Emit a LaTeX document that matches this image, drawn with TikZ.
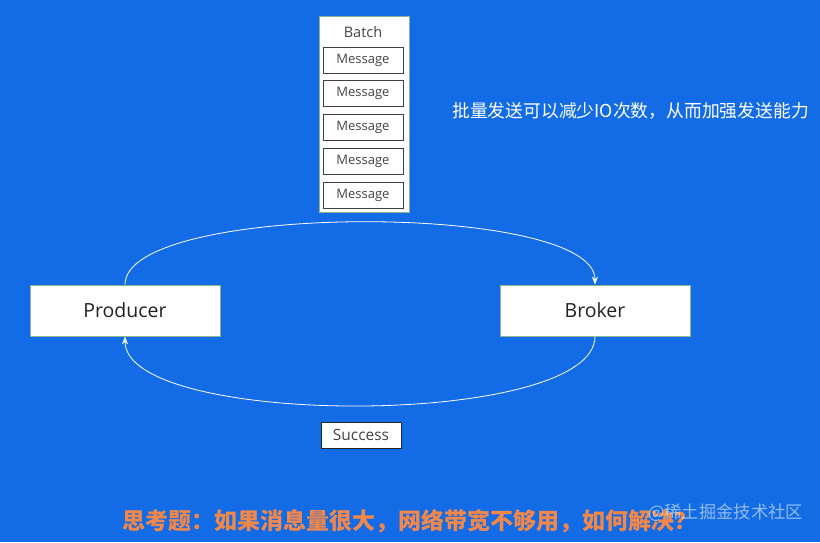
\documentclass[tikz,border=0pt]{standalone}
\usepackage{fontspec}
\setmainfont{Open Sans}
\newfontfamily\cjk{Noto Sans CJK SC}
\usetikzlibrary{arrows.meta}
\definecolor{bg}{HTML}{136CE6}
\definecolor{boxline}{HTML}{8DB58D}
\definecolor{orangetxt}{HTML}{F2874A}
\definecolor{dtext}{HTML}{222222}
\definecolor{mtext}{HTML}{444444}
\tikzset{
  mainbox/.style={draw=boxline, line width=0.8pt, fill=white, minimum width=190pt, minimum height=51pt, inner sep=0pt, text=dtext, font=\fontsize{19.5}{21}\selectfont},
  msgbox/.style={draw=black!75, line width=0.8pt, fill=white, minimum width=80pt, minimum height=26pt, inner sep=0pt, text=mtext, font=\fontsize{13}{14}\selectfont},
  flow/.style={draw=white, line width=0.8pt, -{Stealth[length=8pt,width=6pt]}}
}
\begin{document}
\begin{tikzpicture}[x=1pt,y=1pt]
\useasboundingbox (0,0) rectangle (820,542);
\fill[bg] (0,0) rectangle (820,542);
% batch
\node[draw=boxline, line width=0.8pt, fill=white, minimum width=90pt, minimum height=196pt, inner sep=0pt] (batch) at (364,428) {};
\node[text=mtext, font=\fontsize{14.5}{15}\selectfont] (batchlbl) at (363,510) {Batch};
\node[msgbox] (m1) at (363,482) {Message};
\node[msgbox] (m2) at (363,449) {Message};
\node[msgbox] (m3) at (363,415) {Message};
\node[msgbox] (m4) at (363,381) {Message};
\node[msgbox] (m5) at (363,347) {Message};
% main nodes
\node[mainbox] (prod) at (125,231.5) {Producer};
\node[mainbox] (brok) at (595,231.5) {Broker};
\node[msgbox, draw=black!85, font=\fontsize{15.5}{16}\selectfont] (succ) at (361,107) {Success};
% connectors
\draw[flow] (prod.north) .. controls +(0,83) and +(0,83) .. (brok.north);
\draw[flow] (brok.south) .. controls +(0,-92) and +(0,-92) .. (prod.south);
% texts
\node[font=\cjk\fontsize{17.8}{19}\selectfont, text=white, anchor=west, inner sep=0pt] (note) at (452,431) {批量发送可以减少IO次数，从而加强发送能力};
\node[font=\cjk\bfseries\fontsize{23}{25}\selectfont, text=orangetxt, anchor=west, inner sep=0pt] (q) at (122,21) {思考题：如果消息量很大，网络带宽不够用，如何解决？};
\node[font=\cjk\fontsize{17.3}{19}\selectfont, text=white, opacity=0.55, anchor=west, inner sep=0pt] (wm) at (648,29) {@稀土掘金技术社区};
\end{tikzpicture}
\end{document}
